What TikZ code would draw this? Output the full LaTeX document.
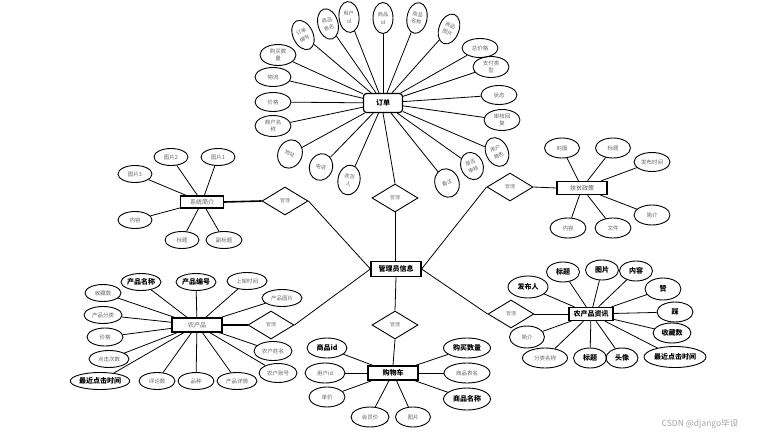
\documentclass[tikz,border=0pt]{standalone}
\usepackage{fontspec}
\setmainfont{Noto Sans CJK SC}
\usetikzlibrary{shapes.geometric}
\begin{document}
\begin{tikzpicture}[x=1pt,y=-1pt,
 attr/.style={ellipse,draw,line width=0.9pt,inner sep=0pt,minimum width=36pt,minimum height=19pt,font=\fontsize{5.5}{7}\selectfont,text=black!60,align=center},
 tall/.style={attr,minimum width=20pt,minimum height=31pt,font=\fontsize{5.2}{7.8}\selectfont},
 battr/.style={attr,font=\fontsize{7}{8}\selectfont\bfseries,text=black},
 ent/.style={draw,line width=1.2pt,inner sep=0pt,minimum width=50pt,minimum height=14pt,font=\fontsize{6}{7}\selectfont,text=black!65},
 bent/.style={ent,font=\fontsize{7}{8}\selectfont\bfseries,text=black},
 rel/.style={diamond,draw,line width=0.9pt,inner sep=0pt,minimum width=46pt,minimum height=28pt,font=\fontsize{5}{6}\selectfont,text=black!50},
 ln/.style={line width=0.8pt},
 tk/.style={line width=1.6pt}]
\useasboundingbox (0,0) rectangle (780,439);
\fill[white] (0,0) rectangle (780,439);

% ---------- 订单 ----------
\node[bent,rounded corners=3pt,minimum width=39pt,minimum height=19pt] (order) at (383,103) {订单};
\node[tall,rotate=25] (o1) at (303,35) {订单\\编号};
\node[tall,rotate=15] (o2) at (328,24) {商品\\表名};
\node[tall,rotate=6] (o3) at (349,17) {用户\\id};
\node[tall] (o4) at (383,18) {商品\\id};
\node[tall,rotate=-10] (o5) at (417,18) {商品\\名称};
\node[tall,rotate=-20] (o6) at (449,29) {商品\\图片};
\node[attr] (o7) at (480,48) {总价格};
\node[attr,minimum height=21pt] (o8) at (491,67) {支付类\\型};
\node[attr] (o9) at (499,95) {状态};
\node[attr,minimum height=21pt] (o10) at (502,120) {审核回\\复};
\node[tall,rotate=25,minimum height=30pt,minimum width=22pt] (o11) at (497,152) {用户\\角色};
\node[tall,rotate=22,minimum width=22pt,minimum height=28pt] (o12) at (472,166) {是否\\审核};
\node[tall,rotate=20,minimum width=24pt,minimum height=29pt] (o13) at (447,183) {备注};
\node[tall,rotate=-10,minimum width=22pt,minimum height=30pt] (o14) at (349,180) {收货\\人};
\node[tall,rotate=-18,minimum width=23pt,minimum height=27pt] (o15) at (321,167) {电话};
\node[tall,rotate=-22,minimum width=24pt,minimum height=29pt] (o16) at (290,154) {地址};
\node[attr,minimum height=21pt] (o17) at (273,126) {商户名\\称};
\node[attr] (o18) at (273,102) {价格};
\node[attr] (o19) at (273,77) {物流};
\node[attr,minimum height=21pt] (o20) at (278,55) {购买数\\量};
\foreach \i in {1,...,20} \draw[ln] (order) -- (o\i);

% ---------- 管理员信息 and relations ----------
\node[bent,minimum width=50pt,minimum height=15pt] (admin) at (396,269) {管理员信息};
\node[rel] (d0) at (395,198) {管理};
\node[rel] (d1) at (285,201) {管理};
\node[rel] (d2) at (510,187) {管理};
\node[rel] (d3) at (271,325) {管理};
\node[rel] (d4) at (511,314) {管理};
\node[rel] (d5) at (395,325) {管理};
\draw[ln] (order.south) -- (d0.north);
\draw[ln] (d0.south) -- (d0.south |- admin.north);
\draw[ln] (d1.east) -- (admin.west);
\draw[ln] (admin.east) -- (d2.west);
\draw[ln] (admin.west) -- (d3.east);
\draw[ln] (admin.east) -- (d4.west);
\draw[ln] (admin.south) -- (d5.north);

% ---------- 系统简介 ----------
\node[ent,minimum width=43pt,minimum height=12pt] (sys) at (202,202) {系统简介};
\node[attr,minimum width=34pt,minimum height=17pt] (s1) at (171,157) {图片2};
\node[attr,minimum width=34pt,minimum height=17pt] (s2) at (218,157) {图片1};
\node[attr,minimum width=34pt,minimum height=17pt] (s3) at (135,174) {图片3};
\node[attr,minimum width=34pt,minimum height=17pt] (s4) at (135,220) {内容};
\node[attr,minimum width=34pt,minimum height=17pt] (s5) at (182,240) {标题};
\node[attr,minimum width=36pt,minimum height=17pt] (s6) at (224,240) {副标题};
\foreach \i in {1,...,6} \draw[ln] (sys) -- (s\i);
\draw[tk] (sys.east) -- (d1.west);

% ---------- 扶贫政策 ----------
\node[ent,minimum width=50pt,minimum height=13pt] (fp) at (582,188) {扶贫政策};
\node[attr,minimum width=35pt,minimum height=20pt] (f1) at (562,148) {封面};
\node[attr,minimum width=35pt,minimum height=20pt] (f2) at (613,148) {标题};
\node[attr,minimum width=36pt,minimum height=19pt] (f3) at (652,162) {发布时间};
\node[attr,minimum width=36pt,minimum height=20pt] (f4) at (652,215) {简介};
\node[attr,minimum width=36pt,minimum height=20pt] (f5) at (613,228) {文件};
\node[attr,minimum width=36pt,minimum height=20pt] (f6) at (568,228) {内容};
\foreach \i in {1,...,6} \draw[ln] (fp) -- (f\i);
\draw[ln] (d2.east) -- (fp.west);

% ---------- 农产品 ----------
\node[ent,minimum width=50pt,minimum height=14pt] (ncp) at (197,325) {农产品};
\node[battr,minimum width=40pt,minimum height=17pt] (n1) at (141,282) {产品名称};
\node[battr,minimum width=40pt,minimum height=17pt] (n2) at (196,282) {产品编号};
\node[attr,minimum width=40pt,minimum height=17pt] (n3) at (247,281) {上架时间};
\node[attr,minimum width=40pt,minimum height=17pt] (n4) at (282,298) {产品图片};
\node[attr,minimum width=36pt,minimum height=17pt] (n5) at (103,293) {收藏数};
\node[attr,minimum width=38pt,minimum height=17pt] (n6) at (103,315) {产品分类};
\node[attr,minimum width=36pt,minimum height=18pt] (n7) at (105,337) {价格};
\node[attr,minimum width=40pt,minimum height=17pt] (n8) at (109,359) {点击次数};
\node[battr,minimum width=58pt,minimum height=17pt] (n9) at (100,381) {最近点击时间};
\node[attr,minimum width=36pt,minimum height=17pt] (n10) at (157,381) {评论数};
\node[attr,minimum width=36pt,minimum height=17pt] (n11) at (196,381) {品种};
\node[attr,minimum width=40pt,minimum height=17pt] (n12) at (237,381) {产品详情};
\node[attr,minimum width=38pt,minimum height=19pt] (n13) at (273,351) {农户姓名};
\node[attr,minimum width=38pt,minimum height=19pt] (n14) at (278,373) {农户账号};
\foreach \i in {1,...,14} \draw[ln] (ncp) -- (n\i);
\draw[tk] (ncp.east) -- (d3.west);

% ---------- 农产品资讯 ----------
\node[bent,minimum width=44pt,minimum height=13pt] (zx) at (591,314) {农产品资讯};
\node[battr,minimum width=33pt,minimum height=20pt] (z1) at (563,272) {标题};
\node[battr,minimum width=33pt,minimum height=20pt] (z2) at (602,270) {图片};
\node[battr,minimum width=33pt,minimum height=20pt] (z3) at (636,271) {内容};
\node[battr,minimum width=36pt,minimum height=22pt] (z4) at (663,289) {赞};
\node[battr,minimum width=36pt,minimum height=20pt] (z5) at (675,312) {踩};
\node[battr,minimum width=38pt,minimum height=20pt] (z6) at (672,333) {收藏数};
\node[battr,minimum width=62pt,minimum height=21pt] (z7) at (675,357) {最近点击时间};
\node[battr,minimum width=32pt,minimum height=20pt] (z8) at (622,358) {头像};
\node[battr,minimum width=33pt,minimum height=20pt] (z9) at (590,358) {标题};
\node[attr,minimum width=45pt,minimum height=20pt] (z10) at (545,358) {分类名称};
\node[attr,minimum width=35pt,minimum height=22pt] (z11) at (527,337) {简介};
\node[battr,minimum width=40pt,minimum height=22pt] (z12) at (528,287) {发布人};
\foreach \i in {1,...,12} \draw[ln] (zx) -- (z\i);
\draw[ln] (d4.east) -- (zx.west);

% ---------- 购物车 ----------
\node[bent,minimum width=50pt,minimum height=14pt] (gwc) at (393,373) {购物车};
\node[battr,minimum width=40pt,minimum height=20pt] (g1) at (327,348) {商品id};
\node[attr,minimum width=40pt,minimum height=20pt] (g2) at (325,373) {用户id};
\node[attr,minimum width=36pt,minimum height=20pt] (g3) at (327,397) {单价};
\node[attr,minimum width=38pt,minimum height=20pt] (g4) at (370,417) {会员价};
\node[attr,minimum width=35pt,minimum height=20pt] (g5) at (413,417) {图片};
\node[battr,minimum width=47pt,minimum height=20pt] (g6) at (467,348) {购买数量};
\node[attr,minimum width=46pt,minimum height=20pt] (g7) at (467,373) {商品表名};
\node[battr,minimum width=47pt,minimum height=22pt] (g8) at (467,399) {商品名称};
\foreach \i in {1,...,8} \draw[ln] (gwc) -- (g\i);
\draw[ln] (d5.south) -- (gwc.north);

% ---------- watermark ----------
\node[font=\fontsize{8.5}{9}\selectfont,text=black!35,inner sep=0pt] (wm) at (700,424) {CSDN @django毕设};
\end{tikzpicture}
\end{document}
